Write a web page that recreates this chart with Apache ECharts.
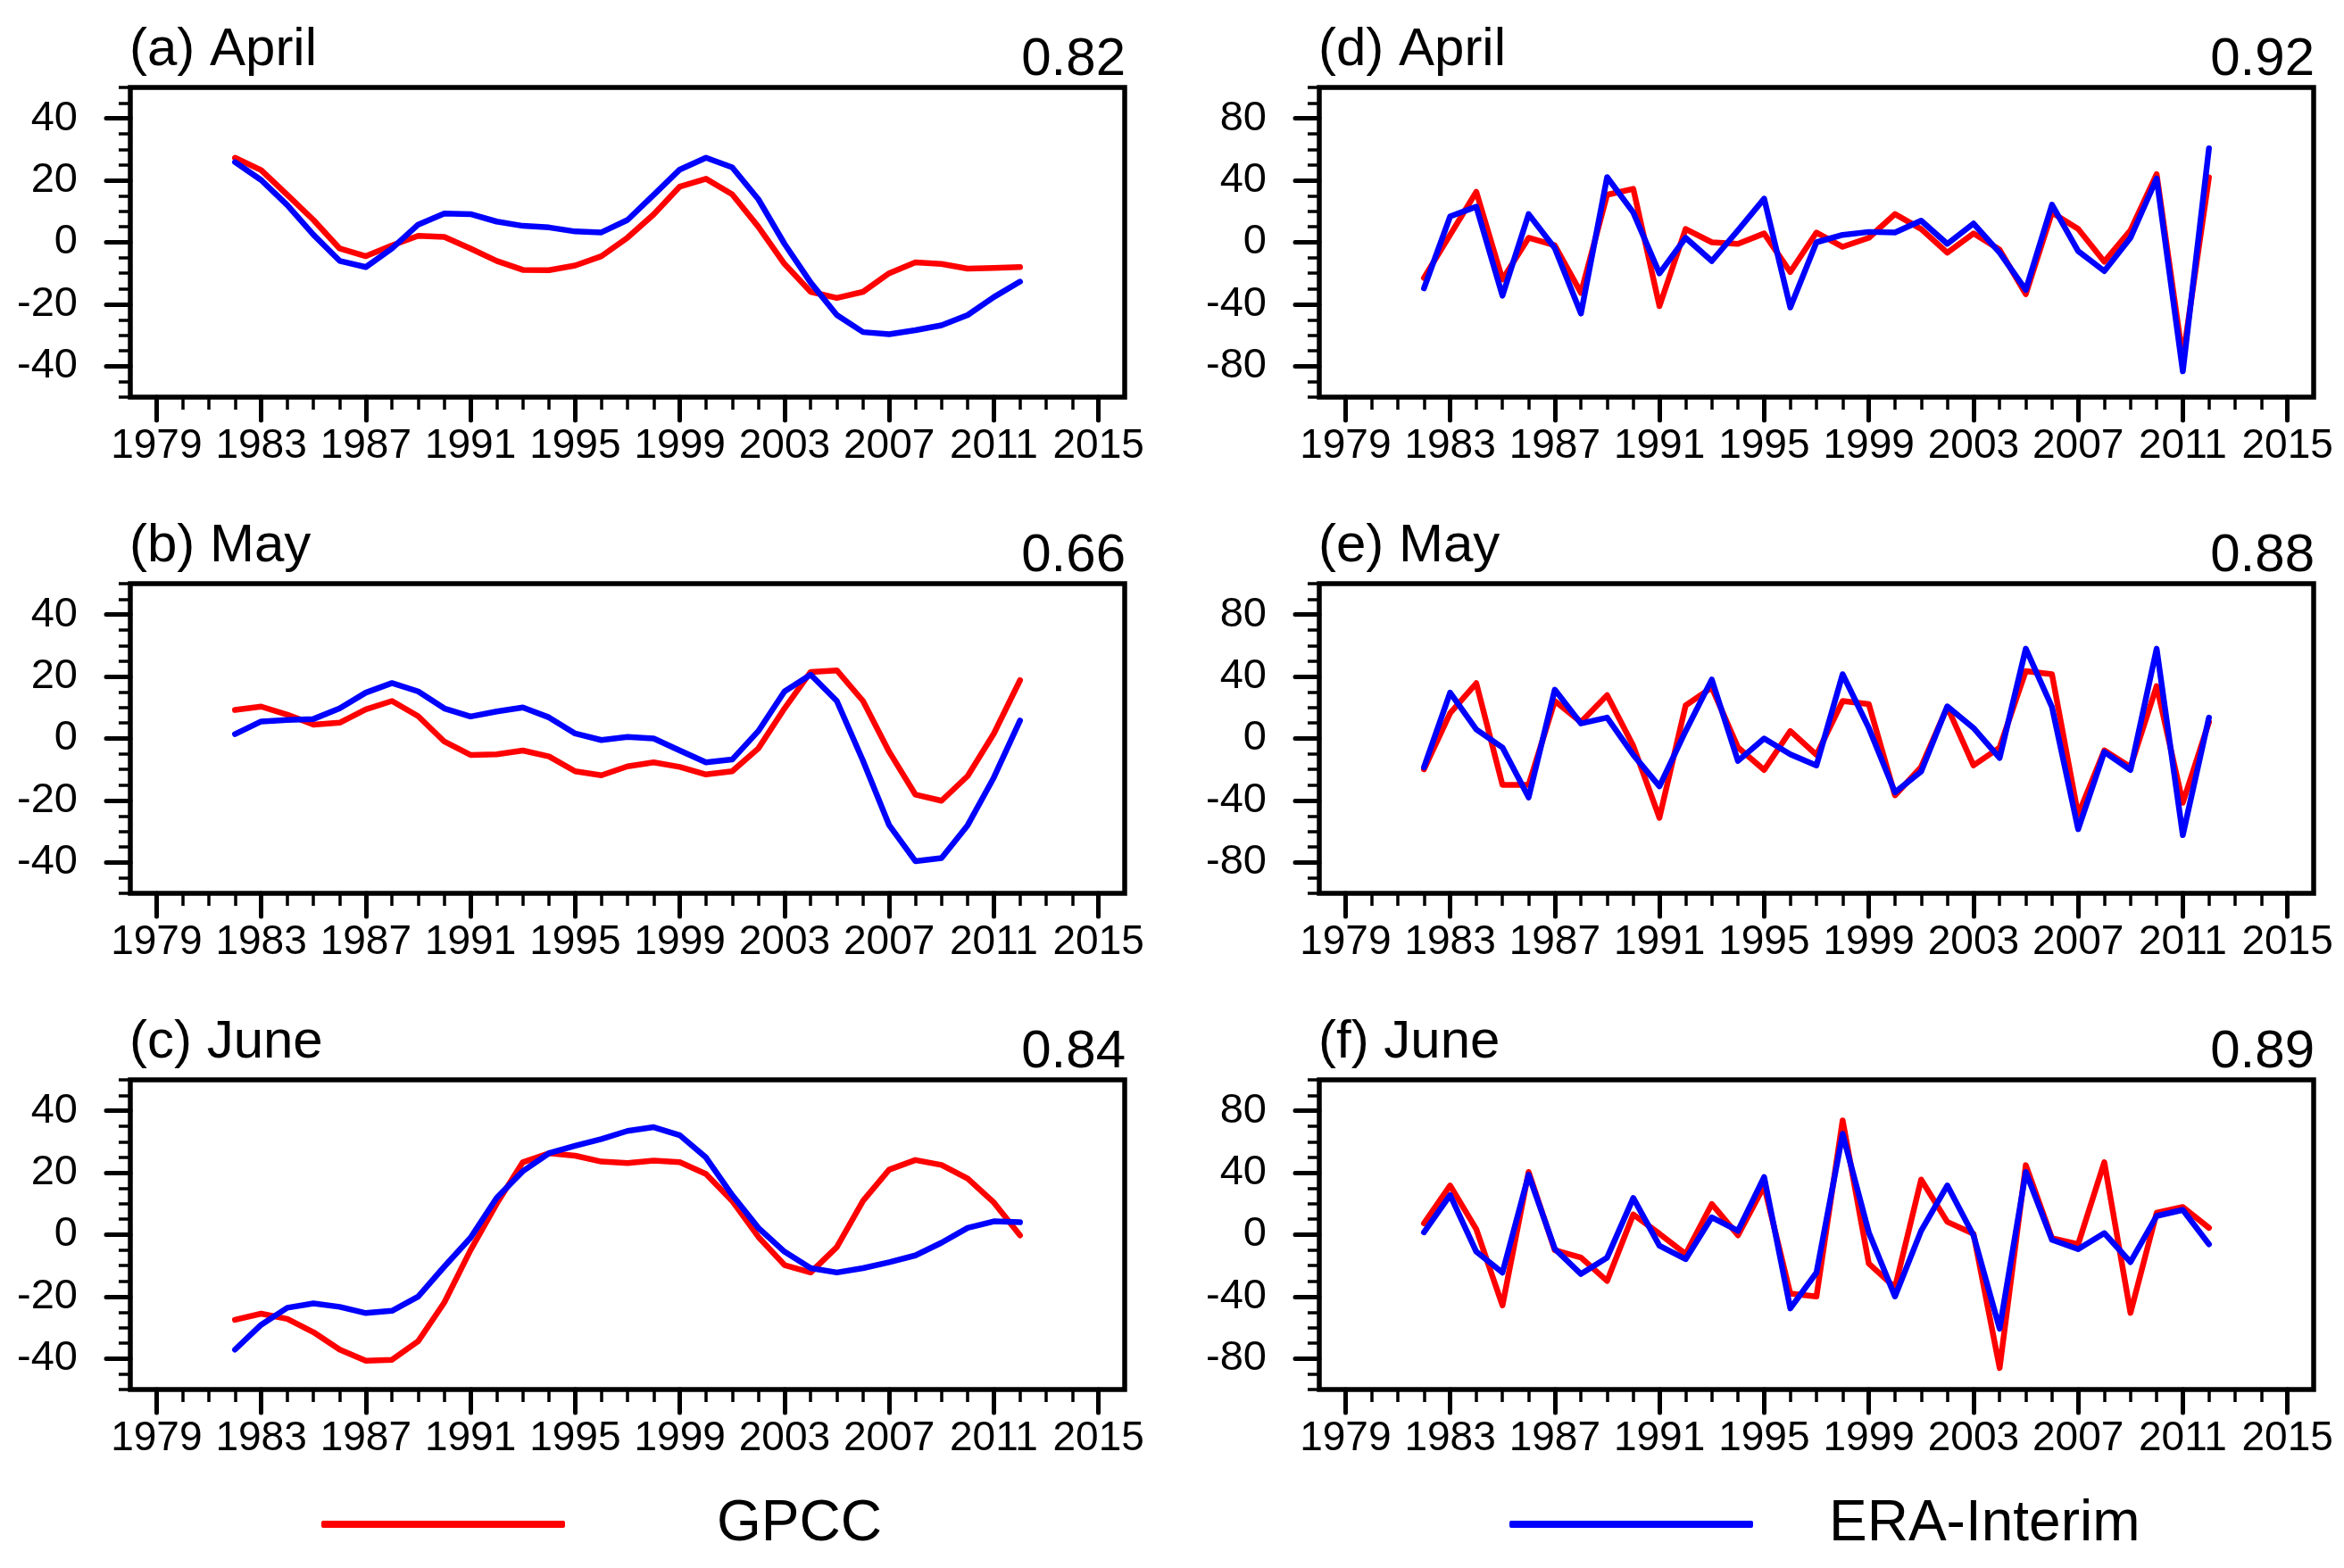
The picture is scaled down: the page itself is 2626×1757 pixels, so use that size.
<!DOCTYPE html>
<html>
<head>
<meta charset="utf-8">
<script src="https://cdn.jsdelivr.net/npm/echarts@6/dist/echarts.min.js"></script>
<style>
html,body{margin:0;padding:0;background:#fff;}
#chart{width:2626px;height:1757px;}
</style>
</head>
<body>
<div id="chart"></div>
<script>
// ---------------- data ----------------
const years = [1982,1983,1984,1985,1986,1987,1988,1989,1990,1991,1992,1993,1994,1995,1996,1997,1998,1999,2000,2001,2002,2003,2004,2005,2006,2007,2008,2009,2010,2011,2012];

const xTickLabels = [1979,1983,1987,1991,1995,1999,2003,2007,2011,2015];
const xMinorTicks = [1979,1980,1981,1982,1983,1984,1985,1986,1987,1988,1989,1990,1991,1992,1993,1994,1995,1996,1997,1998,1999,2000,2001,2002,2003,2004,2005,2006,2007,2008,2009,2010,2011,2012,2013,2014,2015];
const yTicksLeft = [-40,-20,0,20,40];
const yMinorLeft = [-50,-45,-40,-35,-30,-25,-20,-15,-10,-5,0,5,10,15,20,25,30,35,40,45,50];
const yTicksRight = [-80,-40,0,40,80];
const yMinorRight = [-100,-90,-80,-70,-60,-50,-40,-30,-20,-10,0,10,20,30,40,50,60,70,80,90,100];

const panelTitles = ['(a) April','(b) May','(c) June','(d) April','(e) May','(f) June'];
const panelCorr = ['0.82','0.66','0.84','0.92','0.88','0.89'];
const seriesNames = ['GPCC','ERA-Interim'];

// (a) April, smoothed
const gpccA = [27.3,23.3,15.3,7.2,-2,-4.5,-1,2.1,1.7,-2,-6,-8.9,-9,-7.5,-4.5,1.5,9,18,20.5,15.5,5,-7,-16,-18,-16,-10,-6.5,-7,-8.5,-8.3,-8];
const eraA  = [25.9,20.1,12,2.4,-6,-8,-2,5.7,9.3,9.1,6.7,5.3,4.8,3.5,3.2,7.2,15.3,23.5,27.3,24.2,13.9,-0.5,-13,-23.5,-29,-29.7,-28.4,-26.8,-23.5,-17.7,-12.7];
// (b) May, smoothed
const gpccB = [9.2,10.3,7.7,4.5,5.1,9.4,12.1,7.2,-1,-5.3,-5.1,-3.9,-5.8,-10.6,-11.9,-9,-7.7,-9.2,-11.6,-10.6,-3.2,9.7,21.5,22,12.1,-4.3,-18.1,-20.1,-12.1,1.6,18.8];
const eraB  = [1.4,5.5,6,6.3,9.7,14.8,17.9,15.2,9.7,7.1,8.7,10,6.8,1.6,-0.5,0.5,0,-3.9,-7.7,-6.8,2.4,15.2,20.6,12.1,-7.2,-28,-39.6,-38.6,-28,-12.6,5.8];
// (c) June, smoothed
const gpccC = [-27.5,-25.5,-27.2,-31.5,-37.1,-40.7,-40.4,-34.4,-21.9,-5,10,23.4,26.3,25.5,23.6,23.1,23.9,23.4,19.6,10.9,-0.7,-9.8,-12.2,-4,10.9,21,24.1,22.5,18.1,10.4,-0.2];
const eraC  = [-37.1,-29.1,-23.6,-22.2,-23.3,-25.3,-24.6,-20,-10.3,-1,11.9,20.5,26.3,28.7,30.9,33.5,34.7,32.1,24.9,12.8,2.2,-5.5,-10.8,-12.2,-10.8,-8.9,-6.7,-2.6,2.2,4.3,4];
// (d) April, yearly
const gpccD = [-23,4.8,32.6,-24,2.9,-2,-32.6,30.7,34.5,-41.2,8.6,0,-1,5.7,-19.2,6.3,-2.9,2.9,18.2,8.6,-6.7,5.7,-4.8,-33.5,19.2,8.6,-12.5,7.7,44,-75,42];
const eraD  = [-29.7,16.7,23,-34.5,18.2,-3.8,-46,42.1,19.2,-20.1,2.9,-12.1,7.7,28.2,-42.1,0,4.8,6.7,6.3,14,-1,12.1,-6.7,-30.7,24.3,-5.7,-18.6,2.9,41.2,-83.3,60.7];
// (e) May, yearly
const gpccE = [-19.9,16.4,35.7,-30,-30,24.2,10.6,28,-4.8,-51.2,21.3,32.9,-5.8,-20.3,4.8,-10.6,24.2,22.2,-36.7,-18.4,20.3,-17.4,-5.8,43.5,41.5,-49.3,-7.7,-18.4,33.8,-41.5,10.6];
const eraE  = [-18.7,29.6,5.8,-5.8,-38.1,31.5,9.7,13.5,-10.6,-30.9,4.8,38.1,-14.5,0,-10.2,-17.4,41.5,6.8,-34.8,-21.3,20.7,6.8,-12.6,58,20.3,-58.6,-8.7,-20.3,58,-62.4,13.5];
// (f) June, yearly
const gpccF = [7.3,31.8,3.5,-45.7,40.5,-10,-14.8,-29.9,13.1,0.6,-12.5,19.8,-0.4,31.4,-38,-39.9,73.8,-18.7,-34.1,35.6,8.3,0.6,-86.1,44.9,-2.3,-6.2,46.8,-50.5,14.1,17.9,4.4];
const eraF  = [1.5,25.6,-11,-24.5,38.7,-9.1,-25.4,-14.8,23.7,-7.1,-15.8,11.2,2.5,37.2,-47.6,-24.5,65.1,1.5,-39.9,2.5,31.8,-0.4,-60.7,40.5,-3.3,-9.4,1,-17.7,12.1,16,-6.2];

const panelData = [[gpccA,eraA],[gpccB,eraB],[gpccC,eraC],[gpccD,eraD],[gpccE,eraE],[gpccF,eraF]];
const colors = ['#ff0000','#0000ff'];

// ---------------- layout ----------------
const FONT = "'Liberation Sans', Helvetica, Arial, sans-serif";
const colLeft = [146, 1478];
const plotW = 1114;
const rowTop = [98, 654, 1210];
const plotH = 347;
const W = 2626;

const grids = [], xAxes = [], yAxes = [], series = [], titles = [];

for (let p = 0; p < 6; p++) {
  const col = p < 3 ? 0 : 1;
  const row = p % 3;
  const left = colLeft[col], top = rowTop[row];
  grids.push({
    left: left, top: top, width: plotW, height: plotH,
    show: true, borderColor: '#000', borderWidth: 5.5, backgroundColor: 'transparent', containLabel: false
  });
  // major x axis
  xAxes.push({
    type: 'value', gridIndex: p, min: 1978, max: 2016, position: 'bottom',
    axisLine: {show: false, onZero: false}, splitLine: {show: false},
    axisTick: {show: true, length: 26, customValues: xTickLabels, lineStyle: {color: '#000', width: 5, cap: 'round'}},
    axisLabel: {show: true, customValues: xTickLabels, margin: 32, fontSize: 46, lineHeight: 46, color: '#000', fontFamily: FONT,
      formatter: v => String(v)}
  });
  // minor x axis
  xAxes.push({
    type: 'value', gridIndex: p, min: 1978, max: 2016, position: 'bottom',
    axisLine: {show: false, onZero: false}, splitLine: {show: false},
    axisTick: {show: true, length: 14, customValues: xMinorTicks, lineStyle: {color: '#000', width: 3.5}},
    axisLabel: {show: false}
  });
  const yMaj = col === 0 ? yTicksLeft : yTicksRight;
  const yMin = col === 0 ? yMinorLeft : yMinorRight;
  const ext = col === 0 ? 50 : 100;
  yAxes.push({
    type: 'value', gridIndex: p, min: -ext, max: ext, position: 'left',
    axisLine: {show: false, onZero: false}, splitLine: {show: false},
    axisTick: {show: true, length: 27, customValues: yMaj, lineStyle: {color: '#000', width: 5, cap: 'round'}},
    axisLabel: {show: true, customValues: yMaj, margin: 59, fontSize: 47, color: '#000', fontFamily: FONT}
  });
  yAxes.push({
    type: 'value', gridIndex: p, min: -ext, max: ext, position: 'left',
    axisLine: {show: false, onZero: false}, splitLine: {show: false},
    axisTick: {show: true, length: 13, customValues: yMin, lineStyle: {color: '#000', width: 3.5}},
    axisLabel: {show: false}
  });
  for (let s = 0; s < 2; s++) {
    series.push({
      name: seriesNames[s], type: 'line', xAxisIndex: 2 * p, yAxisIndex: 2 * p,
      showSymbol: false, symbol: 'none', smooth: false, animation: false,
      lineStyle: {color: colors[s], width: 6.5, cap: 'round', join: 'round'},
      itemStyle: {color: colors[s]},
      z: 3 + s,
      data: years.map((y, i) => [y, panelData[p][s][i]])
    });
  }
  titles.push({
    text: panelTitles[p], left: left - 6, top: top - 77,
    textStyle: {fontSize: 60, fontWeight: 'normal', color: '#000', fontFamily: FONT, lineHeight: 60}
  });
  titles.push({
    text: panelCorr[p], right: W - (left + plotW) - 6, top: top - 66,
    textStyle: {fontSize: 60, fontWeight: 'normal', color: '#000', fontFamily: FONT, lineHeight: 60}
  });
}

const legendCommon = {
  orient: 'horizontal', icon: 'roundRect', itemWidth: 273, itemHeight: 8,
  top: 1676, padding: 0, selectedMode: false,
  textStyle: {fontSize: 64, lineHeight: 64, color: '#000', fontFamily: FONT}
};

const option = {
  animation: false,
  backgroundColor: '#fff',
  title: titles,
  grid: grids,
  xAxis: xAxes,
  yAxis: yAxes,
  series: series,
  legend: [
    Object.assign({}, legendCommon, {left: 360, data: [{name: 'GPCC', itemStyle: {color: colors[0]}}],
      textStyle: Object.assign({}, legendCommon.textStyle, {padding: [0, 0, 0, 165]})}),
    Object.assign({}, legendCommon, {left: 1691, data: [{name: 'ERA-Interim', itemStyle: {color: colors[1]}}],
      textStyle: Object.assign({}, legendCommon.textStyle, {padding: [0, 0, 0, 80]})})
  ]
};

const chart = echarts.init(document.getElementById('chart'), null, {renderer: 'canvas'});
chart.setOption(option);
</script>
</body>
</html>
